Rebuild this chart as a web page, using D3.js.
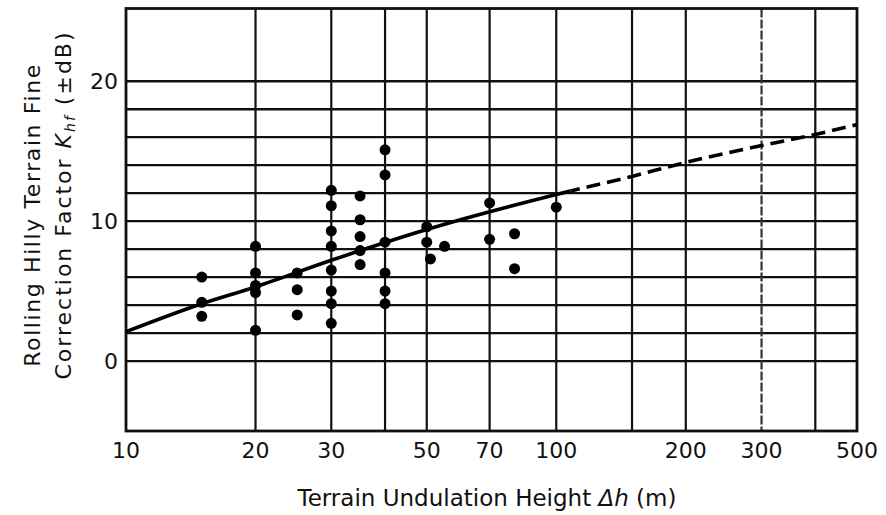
<!DOCTYPE html>
<html>
<head>
<meta charset="utf-8">
<script src="https://cdn.jsdelivr.net/npm/d3@7"></script>
<style>
  body { margin: 0; background: #fff; }
  text { font-family: "DejaVu Sans", sans-serif; fill: #111; }
</style>
</head>
<body>
<svg id="chart" width="886" height="515"></svg>
<script>
// measured points: terrain undulation height (m) and correction factor (dB)
const pointX = [15, 15, 15, 20, 20, 20, 20, 20, 25, 25, 25,
  30, 30, 30, 30, 30, 30, 30, 30,
  35, 35, 35, 35, 35,
  40, 40, 40, 40, 40, 40,
  50, 50, 51, 55, 70, 70, 80, 80, 100]
const pointY = [6.0, 4.2, 3.2, 8.2, 6.3, 5.4, 4.9, 2.2, 6.3, 5.1, 3.3,
  12.2, 11.1, 9.3, 8.2, 6.5, 5.0, 4.1, 2.7,
  11.8, 10.1, 8.9, 7.9, 6.9,
  15.1, 13.3, 8.5, 6.3, 5.0, 4.1,
  9.6, 8.5, 7.3, 8.2, 11.3, 8.7, 9.1, 6.6, 11.0]

// fitted curve, solid up to ~108 m, dashed (extrapolated) beyond
const curveX = [10, 15, 20, 30, 50, 100, 150, 200, 300, 400, 500]
const curveY = [2.1, 4.1, 5.3, 7.2, 9.4, 11.9, 13.2, 14.2, 15.4, 16.2, 16.9]
const solidEnd = 108

const xGrid = [20, 30, 40, 50, 70, 100, 150, 200, 300, 400]
const yGrid = [0, 2, 4, 6, 8, 10, 12, 14, 16, 18, 20]
const xTickLabels = [10, 20, 30, 50, 70, 100, 200, 300, 500]
const yTickLabels = [0, 10, 20]

let svg = d3.select('#chart')
let plotLeft = 126, plotRight = 857, plotTop = 8.5, plotBottom = 431

let x = d3.scaleLog().domain([10, 500]).range([plotLeft, plotRight])
let y = d3.scaleLinear().domain([-5, 25.2]).range([plotBottom, plotTop])

// horizontal grid
svg.append('g')
  .selectAll('line')
  .data(yGrid)
  .enter().append('line')
  .attr('x1', plotLeft).attr('x2', plotRight)
  .attr('y1', d => y(d)).attr('y2', d => y(d))
  .attr('stroke', '#111')
  .attr('stroke-width', 2.3)

// vertical grid (300 line is broken in the original)
svg.append('g')
  .selectAll('line')
  .data(xGrid)
  .enter().append('line')
  .attr('x1', d => x(d)).attr('x2', d => x(d))
  .attr('y1', plotTop).attr('y2', plotBottom)
  .attr('stroke', d => d === 300 ? '#333' : '#111')
  .attr('stroke-width', 2.2)
  .attr('stroke-dasharray', d => d === 300 ? '9,2' : null)

// frame
svg.append('rect')
  .attr('x', plotLeft).attr('y', plotTop)
  .attr('width', plotRight - plotLeft).attr('height', plotBottom - plotTop)
  .attr('fill', 'none')
  .attr('stroke', '#111')
  .attr('stroke-width', 2.8)

// curve
let curveData = curveX.map((d, i) => [d, curveY[i]])
let line = d3.line()
  .x(d => x(d[0]))
  .y(d => y(d[1]))
  .curve(d3.curveMonotoneX)

let defs = svg.append('defs')
defs.append('clipPath').attr('id', 'clipSolid')
  .append('rect')
  .attr('x', plotLeft - 5).attr('y', 0)
  .attr('width', x(solidEnd) - plotLeft + 5).attr('height', 515)
defs.append('clipPath').attr('id', 'clipDash')
  .append('rect')
  .attr('x', x(solidEnd)).attr('y', 0)
  .attr('width', plotRight - x(solidEnd)).attr('height', 515)

svg.append('path')
  .datum(curveData)
  .attr('d', line)
  .attr('fill', 'none')
  .attr('stroke', '#000')
  .attr('stroke-width', 3.6)
  .attr('clip-path', 'url(#clipSolid)')

svg.append('path')
  .datum(curveData)
  .attr('d', line)
  .attr('fill', 'none')
  .attr('stroke', '#000')
  .attr('stroke-width', 3.6)
  .attr('stroke-dasharray', '14,7')
  .attr('clip-path', 'url(#clipDash)')

// points
svg.append('g')
  .selectAll('circle')
  .data(pointX.map((d, i) => [d, pointY[i]]))
  .enter().append('circle')
  .attr('cx', d => x(d[0]))
  .attr('cy', d => y(d[1]))
  .attr('r', 5.5)
  .attr('fill', '#000')

// tick labels
svg.append('g')
  .selectAll('text')
  .data(xTickLabels)
  .enter().append('text')
  .attr('x', d => x(d))
  .attr('y', 458)
  .attr('text-anchor', 'middle')
  .attr('font-size', 22)
  .text(d => d)

svg.append('g')
  .selectAll('text')
  .data(yTickLabels)
  .enter().append('text')
  .attr('x', 118)
  .attr('y', d => y(d))
  .attr('dy', '0.36em')
  .attr('text-anchor', 'end')
  .attr('font-size', 22)
  .text(d => d)

// axis titles
let xt = svg.append('text')
  .attr('x', 487)
  .attr('y', 506)
  .attr('text-anchor', 'middle')
  .attr('font-size', 23)
xt.append('tspan').text('Terrain Undulation Height ')
xt.append('tspan').attr('font-style', 'italic').text('Δh')
xt.append('tspan').text(' (m)')

svg.append('text')
  .attr('transform', 'translate(40,215) rotate(-90)')
  .attr('text-anchor', 'middle')
  .attr('font-size', 22)
  .attr('letter-spacing', 1.6)
  .text('Rolling Hilly Terrain Fine')

let yt = svg.append('text')
  .attr('transform', 'translate(71,205) rotate(-90)')
  .attr('text-anchor', 'middle')
  .attr('font-size', 22)
  .attr('letter-spacing', 2)
yt.append('tspan').text('Correction Factor ')
yt.append('tspan').attr('font-style', 'italic').text('K')
yt.append('tspan').attr('font-style', 'italic').attr('font-size', 14).attr('dy', 4).text('hf')
yt.append('tspan').attr('dy', -4).text(' (±dB)')
</script>
</body>
</html>
